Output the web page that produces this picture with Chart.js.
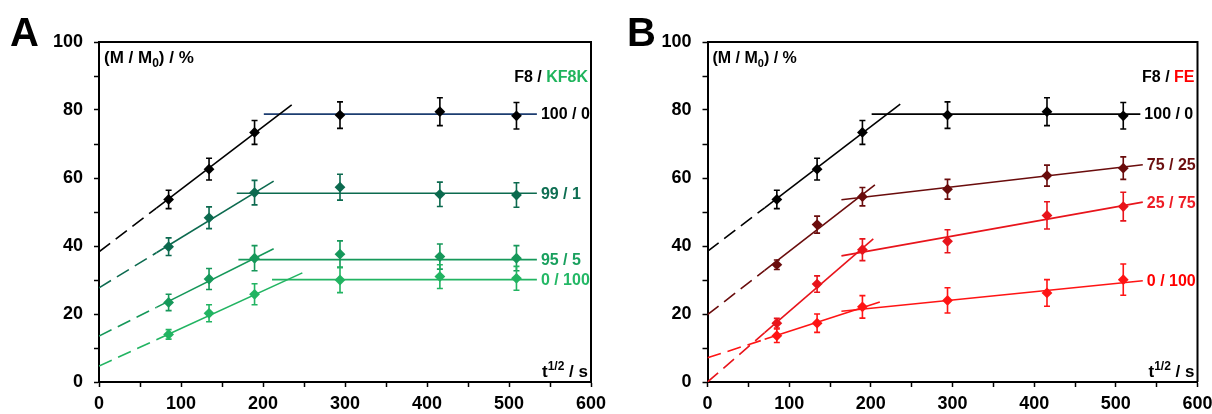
<!DOCTYPE html>
<html><head><meta charset="utf-8">
<script src="https://cdn.jsdelivr.net/npm/chart.js@4.4.1/dist/chart.umd.min.js"></script>
<style>
html,body{margin:0;padding:0;background:#fff;overflow:hidden;width:1212px;height:414px;position:relative;}
#cA{position:absolute;left:0;top:0;}
#cB{position:absolute;left:606px;top:0;}
</style></head><body>
<canvas id="cA" width="620" height="414"></canvas>
<canvas id="cB" width="640" height="414"></canvas>
<script>
// ---------- shared ----------
const xTimes = [84.9, 134.2, 189.7, 293.9, 415.7, 509.1];   // t^1/2 / s
const xTickValues = [0, 100, 200, 300, 400, 500, 600];
const yTickValues = [0, 20, 40, 60, 80, 100];
const dashEndX = 70;

// ---------- Panel A : F8 / KF8K ----------
const labelsA = ['100 / 0', '99 / 1', '95 / 5', '0 / 100'];
const colorsA = ['#000000', '#0c6a4f', '#16985a', '#22b462'];
const flatColorsA = ['#1c3d70', '#0c6a4f', '#16985a', '#22b462'];
const textColorsA = ['#000000', '#0e6e52', '#19a05e', '#24b866'];
const yA_100_0 = [53.7, 62.6, 73.4, 78.5, 79.5, 78.3];
const eA_100_0 = [2.7, 3.2, 3.5, 3.9, 4.1, 3.9];
const yA_99_1  = [39.8, 48.3, 55.7, 57.3, 55.2, 55.0];
const eA_99_1  = [2.6, 3.2, 3.6, 3.8, 3.6, 3.6];
const yA_95_5  = [23.4, 30.3, 36.4, 37.6, 36.9, 36.4];
const eA_95_5  = [2.4, 3.1, 3.7, 3.9, 3.7, 3.7];
const yA_0_100 = [14.0, 20.2, 25.8, 30.0, 31.0, 30.5];
const eA_0_100 = [1.4, 2.5, 3.1, 3.7, 3.5, 3.5];
const riseA_100_0 = [[0, 38.3], [235, 81.5]];
const flatA_100_0 = [[201, 78.8], [534, 78.8]];
const riseA_99_1  = [[0, 27.7], [213, 59.1]];
const flatA_99_1  = [[168, 55.5], [534, 55.5]];
const riseA_95_5  = [[0, 13.5], [213, 39.2]];
const flatA_95_5  = [[170, 36.0], [534, 36.0]];
const riseA_0_100 = [[0, 4.7], [248, 32.1]];
const flatA_0_100 = [[211, 30.1], [534, 30.1]];

// ---------- Panel B : F8 / FE ----------
const labelsB = ['100 / 0', '75 / 25', '25 / 75', '0 / 100'];
const colorsB = ['#000000', '#6a0c0c', '#e8141b', '#ff1414'];
const flatColorsB = ['#000000', '#6a0c0c', '#e8141b', '#ff1414'];
const textColorsB = ['#000000', '#6b0f10', '#ee1c25', '#ff0000'];
const yB_100_0  = [53.7, 62.6, 73.4, 78.5, 79.5, 78.3];
const eB_100_0  = [2.7, 3.2, 3.5, 3.9, 4.1, 3.9];
const yB_75_25  = [34.5, 46.3, 54.5, 56.7, 60.7, 62.9];
const eB_75_25  = [1.4, 2.5, 2.7, 2.9, 3.1, 3.3];
const yB_25_75  = [17.3, 28.8, 38.9, 41.4, 49.0, 51.6];
const eB_25_75  = [1.4, 2.4, 3.2, 3.4, 4.0, 4.2];
const yB_0_100  = [13.6, 17.3, 22.1, 24.0, 26.2, 30.1];
const eB_0_100  = [2.0, 2.7, 3.3, 3.7, 3.9, 4.6];
const riseB_100_0 = [[0, 38.4], [236, 81.7]];
const flatB_100_0 = [[201, 78.8], [530, 78.8]];
const riseB_75_25 = [[0, 19.8], [205, 58.0]];
const flatB_75_25 = [[164, 53.6], [533, 63.9]];
const riseB_25_75 = [[0, 0.0], [203, 42.1]];
const flatB_25_75 = [[164, 37.1], [533, 52.9]];
const riseB_0_100 = [[0, 7.1], [211, 23.5]];
const flatB_0_100 = [[164, 20.8], [533, 29.8]];

const FONT = '"Liberation Sans", Arial, sans-serif';

function makeSeries(labels, colors, flatColors, textColors, ys, es, rises, flats) {
  return labels.map((lab, i) => ({label: lab, color: colors[i], flatColor: flatColors[i], textColor: textColors[i],
    y: ys[i], err: es[i], rise: rises[i], flat: flats[i]}));
}
const seriesA = makeSeries(labelsA, colorsA, flatColorsA, textColorsA,
  [yA_100_0, yA_99_1, yA_95_5, yA_0_100], [eA_100_0, eA_99_1, eA_95_5, eA_0_100],
  [riseA_100_0, riseA_99_1, riseA_95_5, riseA_0_100], [flatA_100_0, flatA_99_1, flatA_95_5, flatA_0_100]);
const seriesB = makeSeries(labelsB, colorsB, flatColorsB, textColorsB,
  [yB_100_0, yB_75_25, yB_25_75, yB_0_100], [eB_100_0, eB_75_25, eB_25_75, eB_0_100],
  [riseB_100_0, riseB_75_25, riseB_25_75, riseB_0_100], [flatB_100_0, flatB_75_25, flatB_25_75, flatB_0_100]);

function buildDatasets(series) {
  const ds = [];
  series.forEach(s => {
    const p0 = s.rise[0], p1 = s.rise[1];
    const yAt = x => p0[1] + (p1[1] - p0[1]) * (x - p0[0]) / (p1[0] - p0[0]);
    ds.push({data: [{x: p0[0], y: p0[1]}, {x: dashEndX, y: yAt(dashEndX)}], showLine: true, borderColor: s.color,
      borderWidth: 1.6, borderDash: [14, 7], pointRadius: 0, order: 3});
    ds.push({data: [{x: dashEndX, y: yAt(dashEndX)}, {x: p1[0], y: p1[1]}], showLine: true, borderColor: s.color,
      borderWidth: 1.6, pointRadius: 0, order: 3});
    ds.push({data: s.flat.map(p => ({x: p[0], y: p[1]})), showLine: true, borderColor: s.flatColor,
      borderWidth: 1.6, pointRadius: 0, order: 3});
    ds.push({data: xTimes.map((x, i) => ({x: x, y: s.y[i]})), errorBars: s.err, showLine: false,
      backgroundColor: s.color, borderColor: s.color, pointStyle: 'rectRot', pointRadius: 5.4, borderWidth: 0, order: 1});
  });
  return ds;
}

const errorBarPlugin = {
  id: 'errbars',
  afterDatasetsDraw(chart) {
    const ctx = chart.ctx, ys = chart.scales.y;
    chart.data.datasets.forEach((d, i) => {
      if (!d.errorBars) return;
      const meta = chart.getDatasetMeta(i);
      ctx.save();
      ctx.strokeStyle = d.borderColor; ctx.lineWidth = 1.6;
      meta.data.forEach((pt, j) => {
        const v = d.data[j].y, e = d.errorBars[j];
        const yt = ys.getPixelForValue(v + e), yb = ys.getPixelForValue(v - e);
        const x = pt.x;
        ctx.beginPath();
        ctx.moveTo(x, yt); ctx.lineTo(x, yb);
        ctx.moveTo(x - 3, yt); ctx.lineTo(x + 3, yt);
        ctx.moveTo(x - 3, yb); ctx.lineTo(x + 3, yb);
        ctx.stroke();
      });
      ctx.restore();
    });
  }
};

const decorPlugin = {
  id: 'decor',
  afterDraw(chart, args, opts) {
    const ctx = chart.ctx, ca = chart.chartArea, xs = chart.scales.x, ys = chart.scales.y;
    ctx.save();
    // frame top/right
    ctx.strokeStyle = '#000'; ctx.lineWidth = 2;
    ctx.beginPath();
    ctx.moveTo(ca.left, ca.top); ctx.lineTo(ca.right, ca.top); ctx.lineTo(ca.right, ca.bottom);
    ctx.stroke();
    // panel letter
    ctx.fillStyle = '#000'; ctx.textBaseline = 'alphabetic'; ctx.textAlign = 'left';
    ctx.font = 'bold 40px ' + FONT;
    ctx.fillText(opts.letter, opts.letterX, 46);
    // y title (M / M0) / %
    const hs = opts.headSize;
    ctx.font = 'bold ' + hs + 'px ' + FONT;
    let x = ca.left + 5; const yb = 63;
    ctx.fillText('(M / M', x, yb); x += ctx.measureText('(M / M').width;
    ctx.font = 'bold ' + Math.round(hs * 0.68) + 'px ' + FONT;
    ctx.fillText('0', x, yb + 4); x += ctx.measureText('0').width;
    ctx.font = 'bold ' + hs + 'px ' + FONT;
    ctx.fillText(') / %', x, yb);
    // x title t^1/2 / s
    const rx = ca.right - 3, xb = 377;
    ctx.textAlign = 'right';
    ctx.font = 'bold 17px ' + FONT;
    ctx.fillText(' / s', rx, xb);
    let w = ctx.measureText(' / s').width;
    ctx.font = 'bold 12px ' + FONT;
    ctx.fillText('1/2', rx - w, xb - 7);
    w += ctx.measureText('1/2').width;
    ctx.font = 'bold 17px ' + FONT;
    ctx.fillText('t', rx - w, xb);
    // legend header
    ctx.font = 'bold 16px ' + FONT;
    ctx.fillStyle = opts.legendColor;
    ctx.fillText(opts.legendRight, ca.right - 3, 82);
    const wr = ctx.measureText(opts.legendRight).width;
    ctx.fillStyle = '#000';
    ctx.fillText('F8 / ', ca.right - 3 - wr, 82);
    // series labels
    ctx.textAlign = 'left'; ctx.textBaseline = 'middle';
    opts.series.forEach(s => {
      const end = s.flat[s.flat.length - 1];
      ctx.fillStyle = s.textColor;
      ctx.fillText(s.label, xs.getPixelForValue(end[0]) + 4, ys.getPixelForValue(end[1]) + 1);
    });
    ctx.restore();
  }
};

function makeChart(id, series, yAxisWidth, padRight, deco) {
  return new Chart(document.getElementById(id), {
    type: 'scatter',
    data: {datasets: buildDatasets(series)},
    options: {
      responsive: false, animation: false, events: [],
      layout: {padding: {left: 0, right: padRight, top: 42, bottom: 0}},
      plugins: {legend: {display: false}, tooltip: {enabled: false}, decor: deco},
      scales: {
        x: {type: 'linear', min: 0, max: 600,
          afterFit: s => { s.height = 32; },
          afterBuildTicks: s => { s.ticks = [0,50,100,150,200,250,300,350,400,450,500,550,600].map(v => ({value: v})); },
          ticks: {callback: v => xTickValues.includes(v) ? String(v) : '', color: '#000', padding: 6, maxRotation: 0, autoSkip: false,
            font: {family: FONT, size: 18, weight: 'bold'}},
          grid: {drawOnChartArea: false, drawTicks: true, tickLength: 5, tickWidth: 1.5, tickColor: '#000'},
          border: {display: true, color: '#000', width: 2}},
        y: {type: 'linear', min: 0, max: 100,
          afterFit: s => { s.width = yAxisWidth; },
          afterBuildTicks: s => { s.ticks = [0,10,20,30,40,50,60,70,80,90,100].map(v => ({value: v})); },
          ticks: {callback: v => yTickValues.includes(v) ? String(v) : '', color: '#000', padding: 11,
            font: {family: FONT, size: 18, weight: 'bold'}},
          grid: {drawOnChartArea: false, drawTicks: true, tickLength: 5, tickWidth: 1.5, tickColor: '#000'},
          border: {display: true, color: '#000', width: 2}}
      }
    },
    plugins: [errorBarPlugin, decorPlugin]
  });
}

makeChart('cA', seriesA, 99, 29, {letter: 'A', letterX: 10, headSize: 17, legendRight: 'KF8K', legendColor: '#1fb45c', series: seriesA});
makeChart('cB', seriesB, 101.5, 48.5, {letter: 'B', letterX: 21, headSize: 16, legendRight: 'FE', legendColor: '#ff0000', series: seriesB});
</script>
</body></html>
